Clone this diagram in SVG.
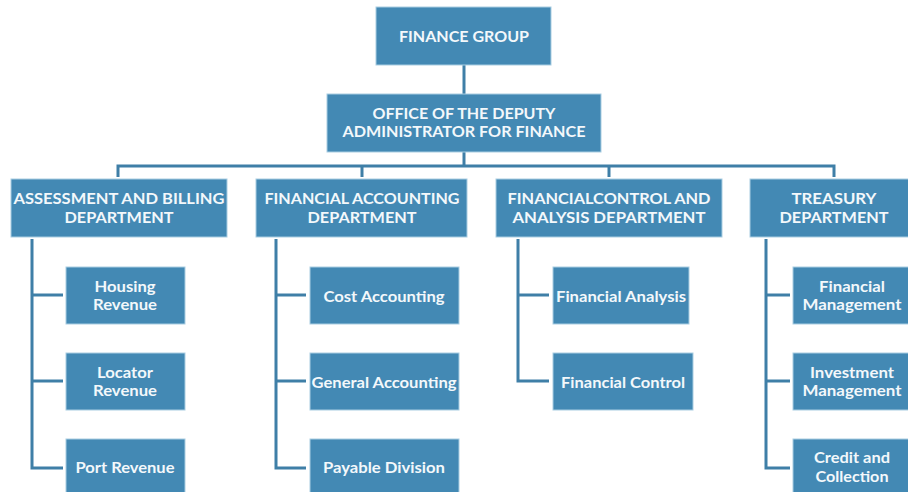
<svg xmlns="http://www.w3.org/2000/svg" width="908" height="492" viewBox="0 0 908 492">
  <style>
    .box { fill: #4389b4; stroke: #a9cde2; stroke-width: 1; }
    .lbl { font-family: Lato, "Open Sans", "DejaVu Sans", sans-serif; font-weight: 700; font-size: 15px; fill: #f3f8fb; text-anchor: middle; }
    .wire { fill: none; stroke: #3f7fa7; stroke-width: 3; stroke-linejoin: miter; }
  </style>
  <rect width="908" height="492" fill="#ffffff"/>

  <!-- connectors -->
  <g id="connectors" class="wire">
    <path d="M464,65 V94"/>
    <path d="M464,152 V166"/>
    <path d="M118,177 V166 H834 V177"/>
    <path d="M362,166 V177"/>
    <path d="M609,166 V177"/>
    <!-- assessment and billing -->
    <path d="M32,239 V468 H63"/>
    <path d="M32,295 H63"/>
    <path d="M32,381 H63"/>
    <!-- financial accounting -->
    <path d="M276,239 V468 H306"/>
    <path d="M276,295 H306"/>
    <path d="M276,381 H306"/>
    <!-- financial control and analysis -->
    <path d="M518,239 V381 H549"/>
    <path d="M518,295 H549"/>
    <!-- treasury -->
    <path d="M766,239 V468 H790"/>
    <path d="M766,295 H790"/>
    <path d="M766,381 H790"/>
  </g>

  <!-- top levels -->
  <g id="finance-group">
    <rect class="box" x="376" y="7" width="175" height="58"/>
    <text class="lbl" x="464" y="42" textLength="130" lengthAdjust="spacingAndGlyphs">FINANCE GROUP</text>
  </g>
  <g id="deputy-office">
    <rect class="box" x="327" y="94" width="274" height="58"/>
    <text class="lbl" x="464" y="119" textLength="183" lengthAdjust="spacingAndGlyphs">OFFICE OF THE DEPUTY</text>
    <text class="lbl" x="464" y="137" textLength="243" lengthAdjust="spacingAndGlyphs">ADMINISTRATOR FOR FINANCE</text>
  </g>

  <!-- departments -->
  <g id="dept-assessment">
    <rect class="box" x="11" y="179" width="216" height="58"/>
    <text class="lbl" x="119" y="204" textLength="211" lengthAdjust="spacingAndGlyphs">ASSESSMENT AND BILLING</text>
    <text class="lbl" x="119" y="223" textLength="109" lengthAdjust="spacingAndGlyphs">DEPARTMENT</text>
  </g>
  <g id="dept-accounting">
    <rect class="box" x="256" y="179" width="211" height="58"/>
    <text class="lbl" x="362" y="204" textLength="195" lengthAdjust="spacingAndGlyphs">FINANCIAL ACCOUNTING</text>
    <text class="lbl" x="362" y="223" textLength="109" lengthAdjust="spacingAndGlyphs">DEPARTMENT</text>
  </g>
  <g id="dept-control">
    <rect class="box" x="496" y="179" width="226" height="58"/>
    <text class="lbl" x="609" y="204" textLength="203" lengthAdjust="spacingAndGlyphs">FINANCIALCONTROL AND</text>
    <text class="lbl" x="609" y="223" textLength="193" lengthAdjust="spacingAndGlyphs">ANALYSIS DEPARTMENT</text>
  </g>
  <g id="dept-treasury">
    <rect class="box" x="750" y="179" width="168" height="58"/>
    <text class="lbl" x="834" y="204" textLength="85" lengthAdjust="spacingAndGlyphs">TREASURY</text>
    <text class="lbl" x="834" y="223" textLength="109" lengthAdjust="spacingAndGlyphs">DEPARTMENT</text>
  </g>

  <!-- assessment and billing units -->
  <g id="housing-revenue">
    <rect class="box" x="66" y="267" width="119" height="57"/>
    <text class="lbl" x="125" y="292" textLength="61" lengthAdjust="spacingAndGlyphs">Housing</text>
    <text class="lbl" x="125" y="310" textLength="64" lengthAdjust="spacingAndGlyphs">Revenue</text>
  </g>
  <g id="locator-revenue">
    <rect class="box" x="66" y="353" width="119" height="57"/>
    <text class="lbl" x="125" y="378" textLength="56" lengthAdjust="spacingAndGlyphs">Locator</text>
    <text class="lbl" x="125" y="396" textLength="64" lengthAdjust="spacingAndGlyphs">Revenue</text>
  </g>
  <g id="port-revenue">
    <rect class="box" x="66" y="439" width="119" height="58"/>
    <text class="lbl" x="125" y="473" textLength="99" lengthAdjust="spacingAndGlyphs">Port Revenue</text>
  </g>

  <!-- financial accounting units -->
  <g id="cost-accounting">
    <rect class="box" x="310" y="267" width="149" height="57"/>
    <text class="lbl" x="384" y="302" textLength="121" lengthAdjust="spacingAndGlyphs">Cost Accounting</text>
  </g>
  <g id="general-accounting">
    <rect class="box" x="310" y="353" width="149" height="57"/>
    <text class="lbl" x="384" y="388" textLength="145" lengthAdjust="spacingAndGlyphs">General Accounting</text>
  </g>
  <g id="payable-division">
    <rect class="box" x="310" y="439" width="149" height="58"/>
    <text class="lbl" x="384" y="473" textLength="122" lengthAdjust="spacingAndGlyphs">Payable Division</text>
  </g>

  <!-- financial control and analysis units -->
  <g id="financial-analysis">
    <rect class="box" x="553" y="267" width="136" height="57"/>
    <text class="lbl" x="621" y="302" textLength="130" lengthAdjust="spacingAndGlyphs">Financial Analysis</text>
  </g>
  <g id="financial-control">
    <rect class="box" x="553" y="353" width="140" height="57"/>
    <text class="lbl" x="623" y="388" textLength="124" lengthAdjust="spacingAndGlyphs">Financial Control</text>
  </g>

  <!-- treasury units -->
  <g id="financial-management">
    <rect class="box" x="793" y="267" width="118" height="57"/>
    <text class="lbl" x="852" y="292" textLength="66" lengthAdjust="spacingAndGlyphs">Financial</text>
    <text class="lbl" x="852" y="310" textLength="99" lengthAdjust="spacingAndGlyphs">Management</text>
  </g>
  <g id="investment-management">
    <rect class="box" x="793" y="353" width="118" height="57"/>
    <text class="lbl" x="852" y="378" textLength="84" lengthAdjust="spacingAndGlyphs">Investment</text>
    <text class="lbl" x="852" y="396" textLength="99" lengthAdjust="spacingAndGlyphs">Management</text>
  </g>
  <g id="credit-collection">
    <rect class="box" x="793" y="439" width="118" height="58"/>
    <text class="lbl" x="852" y="463" textLength="76" lengthAdjust="spacingAndGlyphs">Credit and</text>
    <text class="lbl" x="852" y="482" textLength="73" lengthAdjust="spacingAndGlyphs">Collection</text>
  </g>
</svg>
